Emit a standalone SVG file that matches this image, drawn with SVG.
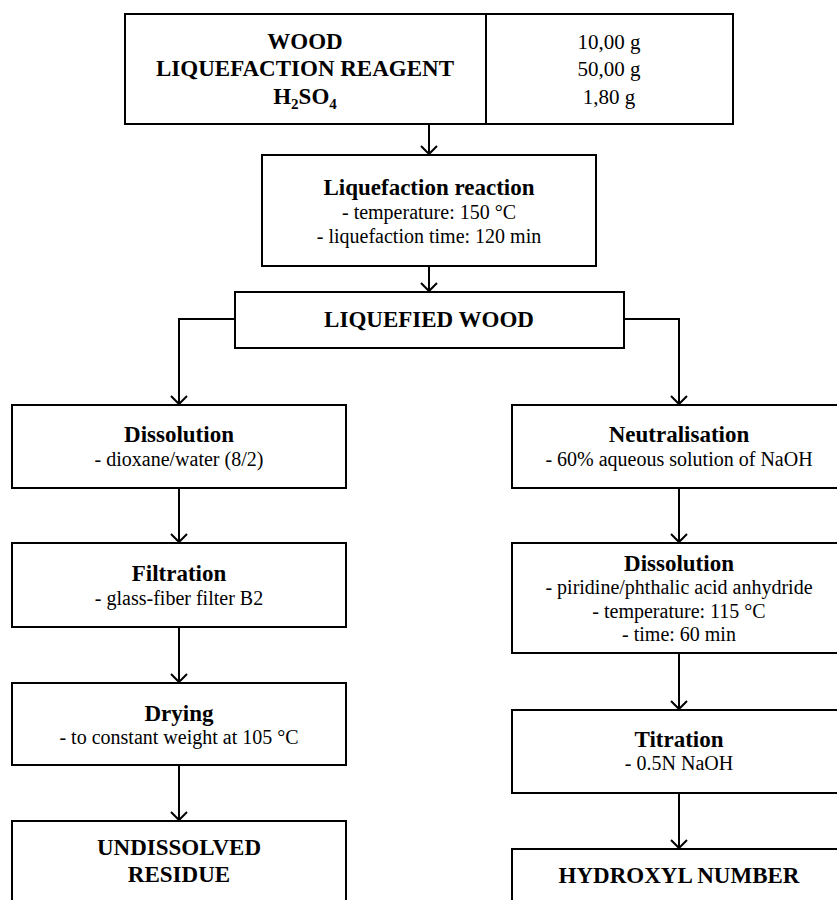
<svg xmlns="http://www.w3.org/2000/svg" width="837" height="900" viewBox="0 0 837 900" font-family="'Liberation Serif', 'Times New Roman', Times, serif">
<style>
.box{fill:#fff;stroke:#000;stroke-width:2}
.ln{fill:none;stroke:#000;stroke-width:2}
text{font-family:'Liberation Serif', Times, serif;fill:#000;text-anchor:middle}
.t{font-size:23px;font-weight:bold}
.s{font-size:20px}
.v{font-size:21px}
</style>
<defs>
<marker id="ah" markerUnits="userSpaceOnUse" markerWidth="12" markerHeight="20" viewBox="-10 -10 12 20" refX="0" refY="0" orient="auto" overflow="visible">
<path d="M-8,-8 L0,0 L-8,8" fill="none" stroke="#000" stroke-width="2"/>
</marker>
</defs>
<rect width="837" height="900" fill="#fff"/>
<g id="connectors">
<line class="ln" x1="429" y1="124" x2="429" y2="154" marker-end="url(#ah)"/>
<line class="ln" x1="429" y1="266" x2="429" y2="291" marker-end="url(#ah)"/>
<polyline class="ln" points="237,319 179,319 179,404" marker-end="url(#ah)"/>
<polyline class="ln" points="624,319 679,319 679,404" marker-end="url(#ah)"/>
<line class="ln" x1="179" y1="488" x2="179" y2="542" marker-end="url(#ah)"/>
<line class="ln" x1="179" y1="627" x2="179" y2="682" marker-end="url(#ah)"/>
<line class="ln" x1="179" y1="765" x2="179" y2="820" marker-end="url(#ah)"/>
<line class="ln" x1="679" y1="488" x2="679" y2="542" marker-end="url(#ah)"/>
<line class="ln" x1="679" y1="653" x2="679" y2="709" marker-end="url(#ah)"/>
<line class="ln" x1="679" y1="793" x2="679" y2="848" marker-end="url(#ah)"/>
</g>
<g id="inputs">
<rect class="box" x="125" y="14" width="608" height="110"/>
<line class="ln" x1="486" y1="14" x2="486" y2="124"/>
<text class="t" x="305" y="49">WOOD</text>
<text class="t" x="305" y="76">LIQUEFACTION REAGENT</text>
<text class="t" x="305" y="104">H<tspan font-size="15" dy="5">2</tspan><tspan dy="-5">SO</tspan><tspan font-size="15" dy="5">4</tspan></text>
<text class="v" x="609" y="49">10,00 g</text>
<text class="v" x="609" y="76">50,00 g</text>
<text class="v" x="609" y="104">1,80 g</text>
</g>
<g id="reaction">
<rect class="box" x="262" y="155" width="334" height="111"/>
<text class="t" x="429" y="195">Liquefaction reaction</text>
<text class="s" x="429" y="219">- temperature: 150 °C</text>
<text class="s" x="429" y="243">- liquefaction time: 120 min</text>
</g>
<g id="liquefied">
<rect class="box" x="235" y="292" width="389" height="56"/>
<text class="t" x="429" y="327">LIQUEFIED WOOD</text>
</g>
<g id="dissolution-left">
<rect class="box" x="12" y="405" width="334" height="83"/>
<text class="t" x="179" y="442">Dissolution</text>
<text class="s" x="179" y="466">- dioxane/water (8/2)</text>
</g>
<g id="filtration">
<rect class="box" x="12" y="543" width="334" height="84"/>
<text class="t" x="179" y="581">Filtration</text>
<text class="s" x="179" y="605">- glass-fiber filter B2</text>
</g>
<g id="drying">
<rect class="box" x="12" y="683" width="334" height="82"/>
<text class="t" x="179" y="721">Drying</text>
<text class="s" x="179" y="744">- to constant weight at 105 °C</text>
</g>
<g id="residue">
<rect class="box" x="12" y="821" width="334" height="120"/>
<text class="t" x="179" y="855">UNDISSOLVED</text>
<text class="t" x="179" y="882">RESIDUE</text>
</g>
<g id="neutralisation">
<rect class="box" x="512" y="405" width="334" height="83"/>
<text class="t" x="679" y="442">Neutralisation</text>
<text class="s" x="679" y="466">- 60% aqueous solution of NaOH</text>
</g>
<g id="dissolution-right">
<rect class="box" x="512" y="543" width="334" height="110"/>
<text class="t" x="679" y="571">Dissolution</text>
<text class="s" x="679" y="594">- piridine/phthalic acid anhydride</text>
<text class="s" x="679" y="618">- temperature: 115 °C</text>
<text class="s" x="679" y="641">- time: 60 min</text>
</g>
<g id="titration">
<rect class="box" x="512" y="710" width="334" height="83"/>
<text class="t" x="679" y="747">Titration</text>
<text class="s" x="679" y="770">- 0.5N NaOH</text>
</g>
<g id="hydroxyl">
<rect class="box" x="512" y="849" width="334" height="100"/>
<text class="t" x="679" y="883">HYDROXYL NUMBER</text>
</g>
</svg>
